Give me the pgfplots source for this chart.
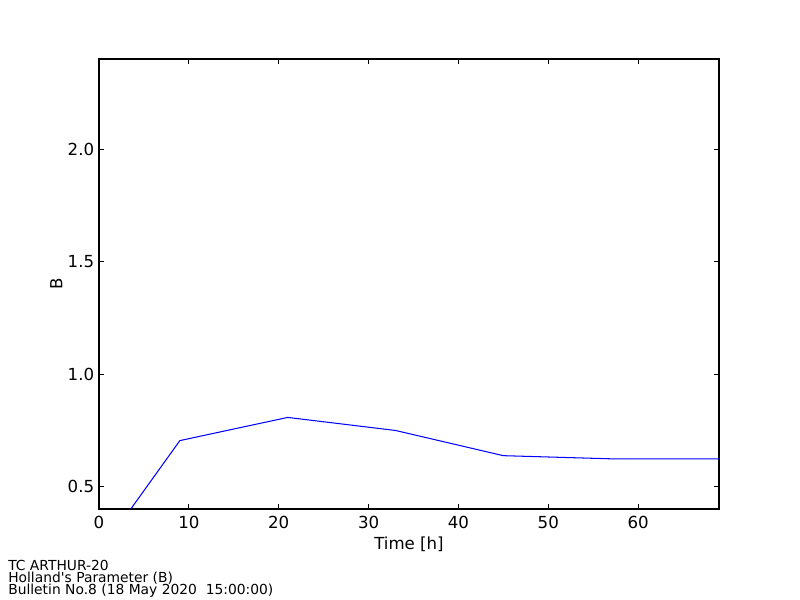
\documentclass[border=0pt]{standalone}
\usepackage{pgfplots}
\pgfplotsset{compat=1.18}
\usepackage{fontspec}
\setmainfont{DejaVu Sans}
\begin{document}
\begin{tikzpicture}
\path[use as bounding box,fill=white] (0,0) rectangle (8in,6in);
\begin{axis}[
  at={(0.99in,0.91in)}, anchor=south west,
  scale only axis, width=6.2in, height=4.5in,
  xmin=0, xmax=69, ymin=0.4, ymax=2.4,
  xtick={0,10,20,30,40,50,60},
  ytick={0.5,1.0,1.5,2.0},
  yticklabel style={/pgf/number format/.cd,fixed,fixed zerofill,precision=1},
  /pgf/number format/assume math mode=true,
  tick align=inside, tick pos=both,
  major tick length=0.05in,
  tick style={black, line width=0.6pt},
  axis line style={black, line width=0.75pt},
  ticklabel style={font=\fontsize{12}{14}\selectfont},
  xticklabel style={yshift=-2pt},
  xlabel={Time [h]}, ylabel={B},
  label style={font=\fontsize{12}{14}\selectfont},
  xlabel style={yshift=1pt},
  ylabel style={yshift=-3pt},
  clip=true,
]
\addplot[blue, line width=0.75pt] coordinates {
(3,0.37) (9,0.704) (21,0.807) (33,0.749) (45,0.637) (57,0.623) (69,0.623)
};
\end{axis}
\node[anchor=base west, inner sep=0, font=\fontsize{10}{12}\selectfont] at (0.08in,0.298in) {TC ARTHUR-20};
\node[anchor=base west, inner sep=0, font=\fontsize{10}{12}\selectfont] at (0.08in,0.178in) {Holland\textquotesingle s Parameter (B)};
\node[anchor=base west, inner sep=0, font=\fontsize{10}{12}\selectfont] at (0.08in,0.058in) {Bulletin No.8 (18 May 2020\ \ 15:00:00)};
\end{tikzpicture}
\end{document}
